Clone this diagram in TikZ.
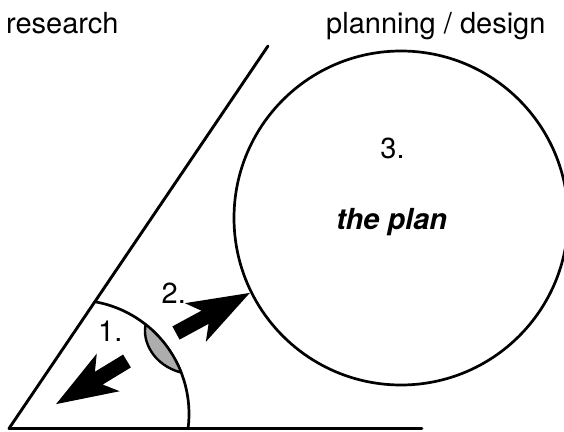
\documentclass[tikz,border=0pt]{standalone}
\usepackage{fontspec}
\setmainfont{TeX Gyre Heros}
\begin{document}
\begin{tikzpicture}[x=1pt,y=1pt,
  stroke/.style={line width=2.9pt, line cap=round, line join=round},
  txt/.style={inner sep=0pt, font=\fontsize{29}{34}\selectfont},
  lensfill/.style={line width=2.4pt, line join=round, fill=black!32},
  bigarrow/.style={fill=black}]
\useasboundingbox (0,0) rectangle (564,431);

% wedge: slanted edge and ground line
\coordinate (apex) at (9,2.5);
\coordinate (slanttop) at (268,385);
\coordinate (baseend) at (422,2.5);
\draw[stroke] (slanttop) -- (apex) -- (baseend);

% the big circle
\node[draw, circle, line width=2.7pt, minimum size=334pt, inner sep=0pt] (plan) at (401,213) {};

% small arc inside the wedge
\coordinate (arcc) at (75,17);
\draw[line width=2.7pt] ([shift={(80:114)}]arcc) arc[start angle=80, end angle=-7.3, radius=114];

% shaded lens on the arc
\filldraw[lensfill] ([shift={(51.7:114)}]arcc) arc[start angle=51.7, end angle=21.3, radius=114]
  .. controls (153,66) and (142,90) .. ([shift={(51.7:114)}]arcc) -- cycle;

% block arrows
\fill[bigarrow, shift={(127,70)}, rotate=211.3]
  (0,7.5) -- (33,7.5) -- (22,22) -- (83,0) -- (22,-22) -- (33,-7.5) -- (0,-7.5) -- cycle;
\fill[bigarrow, shift={(176,98)}, rotate=28.5]
  (0,7.5) -- (33,7.5) -- (22,22) -- (84,0) -- (22,-22) -- (33,-7.5) -- (0,-7.5) -- cycle;

% texts
\node[txt, anchor=base west] (research) at (6,397) {research};
\node[txt, anchor=base west] (design) at (326,397) {planning / design};
\node[txt, anchor=base] (three) at (392.5,272.7) {3.};
\node[txt, anchor=base, font=\fontsize{29}{34}\selectfont\bfseries\itshape] (theplan) at (391.7,201) {the plan};
\node[txt, anchor=base west] (one) at (98,89.3) {1.};
\node[txt, anchor=base west] (two) at (161.5,127.7) {2.};
\end{tikzpicture}
\end{document}
